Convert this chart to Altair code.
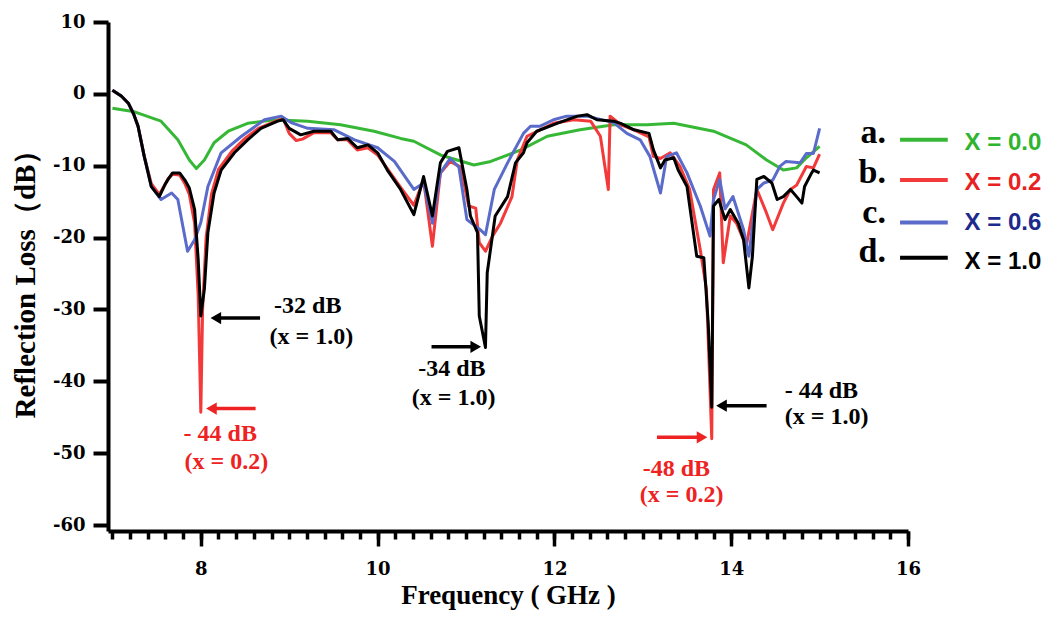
import altair as alt
import pandas as pd

# ---------------- data ----------------
freq_a = [7.00, 7.25, 7.55, 7.74, 7.87, 7.95, 8.04, 8.15, 8.31, 8.53, 8.83, 9.21, 9.58,
          9.96, 10.26, 10.41, 10.71, 11.09, 11.28, 11.62, 11.92, 12.29, 12.67, 13.05,
          13.35, 13.80, 14.17, 14.40, 14.59, 14.74, 14.85, 15.00]
rl_a = [-2.0, -2.5, -3.8, -6.4, -9.2, -10.4, -9.2, -6.8, -5.2, -4.1, -3.6, -3.8, -4.3,
        -5.2, -6.2, -6.6, -8.5, -9.9, -9.4, -7.8, -5.9, -5.0, -4.3, -4.3,
        -4.1, -5.2, -7.1, -9.2, -10.6, -10.3, -8.9, -7.3]

freq_b = [7.00, 7.10, 7.18, 7.24, 7.29, 7.36, 7.44, 7.53, 7.60, 7.63, 7.68, 7.76, 7.82,
          7.87, 7.93, 7.97, 8.00, 8.02, 8.06, 8.12, 8.20, 8.35, 8.50, 8.65, 8.85, 8.93,
          9.00, 9.08, 9.15, 9.28, 9.47, 9.55, 9.66, 9.77, 9.89, 10.00, 10.11, 10.26,
          10.41, 10.52, 10.62, 10.71, 10.82, 10.94, 11.03, 11.11, 11.15, 11.22, 11.30,
          11.39, 11.52, 11.58, 11.69, 11.99, 12.22, 12.41, 12.52, 12.61, 12.63, 12.75,
          12.90, 13.07, 13.12, 13.20, 13.31, 13.42, 13.53, 13.65, 13.72, 13.78, 13.80,
          13.87, 13.91, 13.99, 14.06, 14.17, 14.29, 14.40, 14.47, 14.59, 14.67, 14.74,
          14.85, 14.93, 15.00]
rl_b = [0.5, -0.3, -1.3, -2.8, -4.5, -8.7, -12.5, -14.0, -12.5, -11.8, -11.2, -11.3, -12.5,
        -14.0, -18.0, -28.0, -44.3, -30.0, -20.0, -14.0, -10.5, -8.0, -6.2, -4.8, -3.8, -3.4,
        -5.5, -6.5, -6.3, -5.4, -5.4, -6.4, -6.4, -7.8, -7.5, -8.5, -10.4, -13.0,
        -15.5, -12.0, -21.2, -11.0, -9.4, -10.2, -15.6, -15.9, -20.7, -21.9, -19.8,
        -18.0, -14.3, -9.2, -5.9, -4.1, -3.6, -3.8, -5.9, -13.3, -3.1, -4.3,
        -5.0, -6.0, -8.7, -9.0, -8.2, -10.1, -13.3, -21.7, -27.2, -48.0, -13.3,
        -11.0, -23.5, -17.0, -18.0, -21.2, -13.3, -16.6, -18.9, -15.2, -13.3, -12.7,
        -10.1, -10.3, -8.4]

freq_c = [7.00, 7.10, 7.18, 7.24, 7.29, 7.36, 7.44, 7.55, 7.67, 7.74, 7.85, 7.93, 8.00,
          8.08, 8.23, 8.46, 8.72, 8.91, 9.02, 9.21, 9.51, 9.74, 10.00, 10.19, 10.41,
          10.52, 10.62, 10.71, 10.82, 10.92, 11.01, 11.16, 11.22, 11.32, 11.47, 11.65,
          11.73, 11.84, 11.99, 12.14, 12.37, 12.67, 12.82, 12.97, 13.08, 13.20, 13.27,
          13.38, 13.50, 13.65, 13.76, 13.80, 13.87, 13.93, 14.02, 14.14, 14.20, 14.29,
          14.37, 14.47, 14.55, 14.62, 14.78, 14.85, 14.93, 15.00]
rl_c = [0.5, -0.3, -1.3, -2.8, -4.5, -8.7, -12.9, -14.7, -13.8, -14.7, -21.9, -20.3, -17.9,
        -12.9, -8.2, -5.9, -3.6, -3.1, -4.0, -4.8, -5.0, -6.4, -7.5, -9.4, -13.3,
        -12.4, -18.0, -11.0, -9.0, -10.2, -17.5, -18.9, -19.6, -13.3, -9.6, -5.5,
        -4.5, -4.5, -3.6, -3.1, -3.1, -4.0, -5.5, -6.4, -8.7, -13.8, -8.7,
        -8.2, -11.0, -15.6, -19.8, -14.7, -11.9, -16.0, -14.3, -18.9, -22.6, -13.3,
        -12.4, -12.0, -10.1, -9.4, -9.6, -8.3, -8.3, -4.8]

freq_d = [7.00, 7.10, 7.18, 7.24, 7.29, 7.36, 7.44, 7.53, 7.60, 7.63, 7.68, 7.76, 7.82,
          7.87, 7.93, 7.97, 8.00, 8.04, 8.08, 8.15, 8.23, 8.38, 8.53, 8.68, 8.87, 8.93,
          9.00, 9.13, 9.28, 9.47, 9.55, 9.66, 9.77, 9.89, 10.00, 10.11, 10.26, 10.41,
          10.52, 10.62, 10.71, 10.79, 10.92, 11.01, 11.05, 11.13, 11.15, 11.22, 11.24,
          11.33, 11.47, 11.56, 11.65, 11.69, 11.80, 12.03, 12.26, 12.37, 12.48, 12.67,
          12.75, 12.90, 13.07, 13.12, 13.20, 13.25, 13.35, 13.40, 13.50, 13.61, 13.69,
          13.74, 13.78, 13.80, 13.86, 13.93, 13.99, 14.08, 14.14, 14.20, 14.24, 14.29,
          14.37, 14.46, 14.52, 14.59, 14.67, 14.74, 14.80, 14.83, 14.91, 14.93, 15.00]
rl_d = [0.5, -0.3, -1.3, -2.8, -4.5, -8.7, -12.9, -14.3, -12.5, -11.9, -11.0, -11.0, -12.0,
        -13.1, -16.1, -23.0, -30.9, -27.2, -19.3, -13.8, -10.6, -8.2, -6.4, -4.8, -3.8, -3.6,
        -4.8, -5.7, -5.2, -5.2, -6.4, -6.2, -7.5, -7.1, -8.2, -10.6, -13.3, -16.8,
        -11.5, -17.0, -9.6, -8.0, -7.5, -13.3, -17.0, -19.3, -30.9, -35.3, -24.9,
        -17.0, -14.3, -9.6, -8.2, -6.8, -5.2, -4.1, -3.1, -2.9, -3.6, -3.8,
        -4.1, -5.0, -5.5, -7.8, -10.3, -9.2, -8.9, -10.6, -12.9, -22.6, -22.8,
        -31.9, -43.6, -15.6, -14.7, -17.5, -16.1, -18.0, -20.3, -27.0, -22.6, -11.9,
        -11.5, -12.4, -14.7, -14.3, -13.3, -14.3, -15.2, -12.9, -11.0, -10.6, -11.0]

series_names = ["a", "b", "c", "d"]
series_colors = ["#36b836", "#f23a3a", "#5a6bc9", "#000000"]

# legend texts
legend_letters = ["a.", "b.", "c.", "d."]
legend_labels = ["X = 0.0", "X = 0.2", "X = 0.6", "X = 1.0"]
legend_label_colors = ["#2fb42f", "#e82222", "#1c2a8c", "#000000"]
legend_line_rl = [-6.4, -12.0, -17.9, -22.8]
legend_letter_rl = [-6.9, -12.4, -18.0, -23.4]
legend_label_rl = [-7.8, -13.4, -19.0, -24.4]
legend_letter_f = 15.75
legend_line_f1 = 15.91
legend_line_f2 = 16.45
legend_label_f = 16.64

# annotation arrows
arrow_tail_f = [8.67, 8.62, 10.61, 14.40, 13.16]
arrow_tip_f = [8.10, 8.05, 11.18, 13.82, 13.74]
arrow_rl = [-31.2, -43.8, -35.2, -43.4, -47.8]
arrow_colors = ["#000000", "#ee2222", "#000000", "#000000", "#ee2222"]

# annotation texts
ann_text = ["-32 dB", "(x = 1.0)", "- 44 dB", "(x = 0.2)", "-34 dB", "(x = 1.0)",
            "- 44 dB", "(x = 1.0)", "-48 dB", "(x = 0.2)"]
ann_f = [9.21, 9.25, 8.22, 8.29, 10.84, 10.86, 15.02, 15.08, 13.38, 13.44]
ann_rl = [-30.5, -34.8, -48.3, -52.2, -39.3, -43.3, -42.3, -45.9, -53.2, -56.8]
ann_colors = ["#000000", "#000000", "#ee2222", "#ee2222", "#000000", "#000000",
              "#000000", "#000000", "#ee2222", "#ee2222"]

# axes
x_domain = [6.95, 16]
y_domain = [-60.83, 10]
x_major_ticks = [8, 10, 12, 14, 16]
x_minor_ticks = [round(7 + 0.2 * i, 1) for i in range(46)]
y_tick_values = [-60, -50, -40, -30, -20, -10, 0, 10]

# ---------------- tables ----------------
rows = []
for name, fs, vs in zip(series_names, [freq_a, freq_b, freq_c, freq_d], [rl_a, rl_b, rl_c, rl_d]):
    for f, v in zip(fs, vs):
        rows.append({"series": name, "freq": f, "rl": v})
lines_df = pd.DataFrame(rows)

arrow_rows = []
for t0, t1, r, c in zip(arrow_tail_f, arrow_tip_f, arrow_rl, arrow_colors):
    left = t1 < t0
    head = t1 + (0.07 if left else -0.07)
    arrow_rows.append({"f1": t0, "f2": head, "head": head, "rl": r, "color": c,
                       "shape": "triangle-left" if left else "triangle-right"})
arrow_df = pd.DataFrame(arrow_rows)

ann_df = pd.DataFrame({"f": ann_f, "rl": ann_rl, "text": ann_text, "color": ann_colors})

leg_df = pd.DataFrame({
    "letter": legend_letters, "label": legend_labels, "color": series_colors,
    "label_color": legend_label_colors, "line_rl": legend_line_rl,
    "letter_rl": legend_letter_rl, "label_rl": legend_label_rl,
    "letter_f": [legend_letter_f] * 4, "f1": [legend_line_f1] * 4,
    "f2": [legend_line_f2] * 4, "label_f": [legend_label_f] * 4,
})

# ---------------- scales / axes ----------------
xscale = alt.Scale(domain=x_domain, nice=False, zero=False)
yscale = alt.Scale(domain=y_domain, nice=False, zero=False)

x_axis = alt.Axis(
    orient="bottom",
    values=x_major_ticks,
    title="Frequency ( GHz )",
    titleFont="Liberation Serif", titleFontWeight="bold", titleFontSize=27,
    titleColor="#000", titlePadding=4,
    format="d",
    labelFont="DejaVu Serif", labelFontWeight="bold", labelFontSize=18,
    labelColor="#000", labelPadding=14, labelFlush=False, labelOverlap=False,
    tickSize=15, tickWidth=3.5, tickColor="#000",
    domainColor="#000", domainWidth=4, grid=False,
)
x_minor_axis = alt.Axis(
    orient="bottom",
    values=x_minor_ticks,
    title=None, labels=False, domain=False, grid=False,
    tickSize=8, tickWidth=3.5, tickColor="#000",
)
y_axis = alt.Axis(
    orient="left",
    values=y_tick_values,
    title="Reflection Loss（dB）",
    titleFont="Liberation Serif", titleFontWeight="bold", titleFontSize=29,
    titleColor="#000", titlePadding=12,
    labelExpr="datum.value + ''",
    labelFont="DejaVu Serif", labelFontWeight="bold", labelFontSize=18,
    labelColor="#000", labelPadding=8, labelFlush=False, labelOverlap=False,
    tickSize=15, tickWidth=4, tickColor="#000",
    domainColor="#000", domainWidth=4, grid=False,
)

# ---------------- layers ----------------
lines = alt.Chart(lines_df).mark_line(strokeWidth=3, strokeJoin="round").encode(
    x=alt.X("freq:Q", scale=xscale, axis=x_axis),
    y=alt.Y("rl:Q", scale=yscale, axis=y_axis),
    color=alt.Color("series:N", scale=alt.Scale(domain=series_names, range=series_colors),
                    legend=None),
)

minor = alt.Chart(lines_df).mark_point(opacity=0, size=1).encode(
    x=alt.X("freq:Q", scale=xscale, axis=x_minor_axis),
    y=alt.Y("rl:Q", scale=yscale, axis=None),
)

arrow_lines = alt.Chart(arrow_df).mark_rule(strokeWidth=3.5).encode(
    x=alt.X("f1:Q", scale=xscale, axis=None),
    x2="f2:Q",
    y=alt.Y("rl:Q", scale=yscale, axis=None),
    color=alt.Color("color:N", scale=None),
)
arrow_heads = alt.Chart(arrow_df).mark_point(filled=True, size=150, opacity=1).encode(
    x=alt.X("head:Q", scale=xscale, axis=None),
    y=alt.Y("rl:Q", scale=yscale, axis=None),
    shape=alt.Shape("shape:N", scale=None),
    color=alt.Color("color:N", scale=None),
)

ann = alt.Chart(ann_df).mark_text(
    font="Liberation Serif", fontWeight="bold", fontSize=24,
    align="center", baseline="alphabetic",
).encode(
    x=alt.X("f:Q", scale=xscale, axis=None),
    y=alt.Y("rl:Q", scale=yscale, axis=None),
    text="text:N",
    color=alt.Color("color:N", scale=None),
)

leg_lines = alt.Chart(leg_df).mark_rule(strokeWidth=4).encode(
    x=alt.X("f1:Q", scale=xscale, axis=None),
    x2="f2:Q",
    y=alt.Y("line_rl:Q", scale=yscale, axis=None),
    color=alt.Color("color:N", scale=None),
)
leg_letters = alt.Chart(leg_df).mark_text(
    font="Liberation Serif", fontWeight="bold", fontSize=34,
    align="right", baseline="alphabetic",
).encode(
    x=alt.X("letter_f:Q", scale=xscale, axis=None),
    y=alt.Y("letter_rl:Q", scale=yscale, axis=None),
    text="letter:N",
    color=alt.value("#000"),
)
leg_labels = alt.Chart(leg_df).mark_text(
    font="Liberation Sans", fontWeight="bold", fontSize=24,
    align="left", baseline="alphabetic",
).encode(
    x=alt.X("label_f:Q", scale=xscale, axis=None),
    y=alt.Y("label_rl:Q", scale=yscale, axis=None),
    text="label:N",
    color=alt.Color("label_color:N", scale=None),
)

chart = alt.layer(
    minor, lines, arrow_lines, arrow_heads, ann, leg_lines, leg_letters, leg_labels
).resolve_axis(x="independent", y="independent").properties(
    width=800, height=509,
    autosize=alt.AutoSizeParams(type="none"),
    padding={"left": 100, "top": 14, "right": 138, "bottom": 84},
    background="white",
).configure_view(stroke=None)

chart.save("out.html", embed_options={"renderer": "svg", "actions": False})
